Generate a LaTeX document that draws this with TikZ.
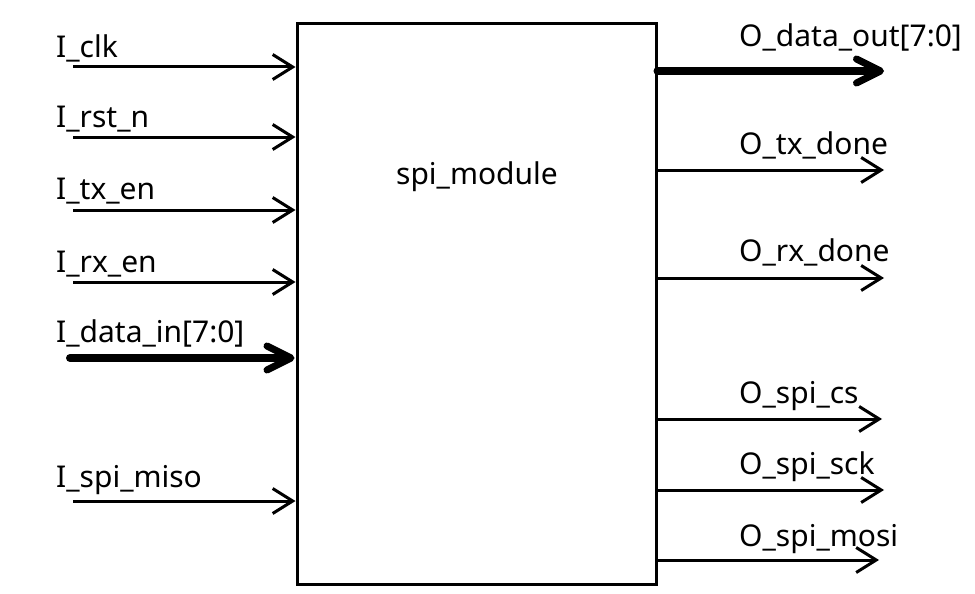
\documentclass[tikz,border=0pt]{standalone}
\usepackage{fontspec}
\setmainfont{Noto Sans}
\usetikzlibrary{arrows.meta}
\begin{document}
\begin{tikzpicture}[x=1pt,y=-1pt,
  sig/.style={line width=3pt,-{Straight Barb[length=20pt,width=25pt,line width=3pt]}},
  bus/.style={line width=8pt,line cap=round,-{Straight Barb[length=24pt,width=24pt,round,line width=7pt]}},
  lbl/.style={anchor=base west,inner sep=0pt,font=\fontsize{30}{34}\selectfont}]
\useasboundingbox (0,0) rectangle (975,594);
\node[draw,line width=3pt,minimum width=359pt,minimum height=560pt,inner sep=0pt] (box) at (476.5,304) {};
\node[anchor=base,inner sep=0pt,font=\fontsize{30}{34}\selectfont] (name) at (477,184) {spi\_module};
% inputs
\coordinate (i1) at (73,67);
\coordinate (i2) at (73,137);
\coordinate (i3) at (73,210);
\coordinate (i4) at (73,282);
\coordinate (i5) at (70,358);
\coordinate (i6) at (73,501);
\node[lbl] (l1) at (56,58) {I\_clk};
\node[lbl] (l2) at (56,128) {I\_rst\_n};
\node[lbl] (l3) at (56,199) {I\_tx\_en};
\node[lbl] (l4) at (56,272) {I\_rx\_en};
\node[lbl] (l5) at (56,342) {I\_data\_in[7:0]};
\node[lbl] (l6) at (56,487) {I\_spi\_miso};
\draw[sig] (i1) -- (i1 -| box.west);
\draw[sig] (i2) -- (i2 -| box.west);
\draw[sig] (i3) -- (i3 -| box.west);
\draw[sig] (i4) -- (i4 -| box.west);
\draw[bus] (i5) -- ([xshift=-1pt]i5 -| box.west);
\draw[sig] (i6) -- (i6 -| box.west);
% outputs
\coordinate (o1) at (884,71);
\coordinate (o2) at (884,170);
\coordinate (o3) at (884,278);
\coordinate (o4) at (882,419);
\coordinate (o5) at (884,490);
\coordinate (o6) at (879,560);
\node[lbl] (r1) at (739,47) {O\_data\_out[7:0]};
\node[lbl] (r2) at (739,154) {O\_tx\_done};
\node[lbl] (r3) at (739,261) {O\_rx\_done};
\node[lbl] (r4) at (739,403) {O\_spi\_cs};
\node[lbl] (r5) at (739,474) {O\_spi\_sck};
\node[lbl] (r6) at (739,546) {O\_spi\_mosi};
\draw[bus] (o1 -| box.east) -- (o1);
\draw[sig] (o2 -| box.east) -- (o2);
\draw[sig] (o3 -| box.east) -- (o3);
\draw[sig] (o4 -| box.east) -- (o4);
\draw[sig] (o5 -| box.east) -- (o5);
\draw[sig] (o6 -| box.east) -- (o6);
\end{tikzpicture}
\end{document}
